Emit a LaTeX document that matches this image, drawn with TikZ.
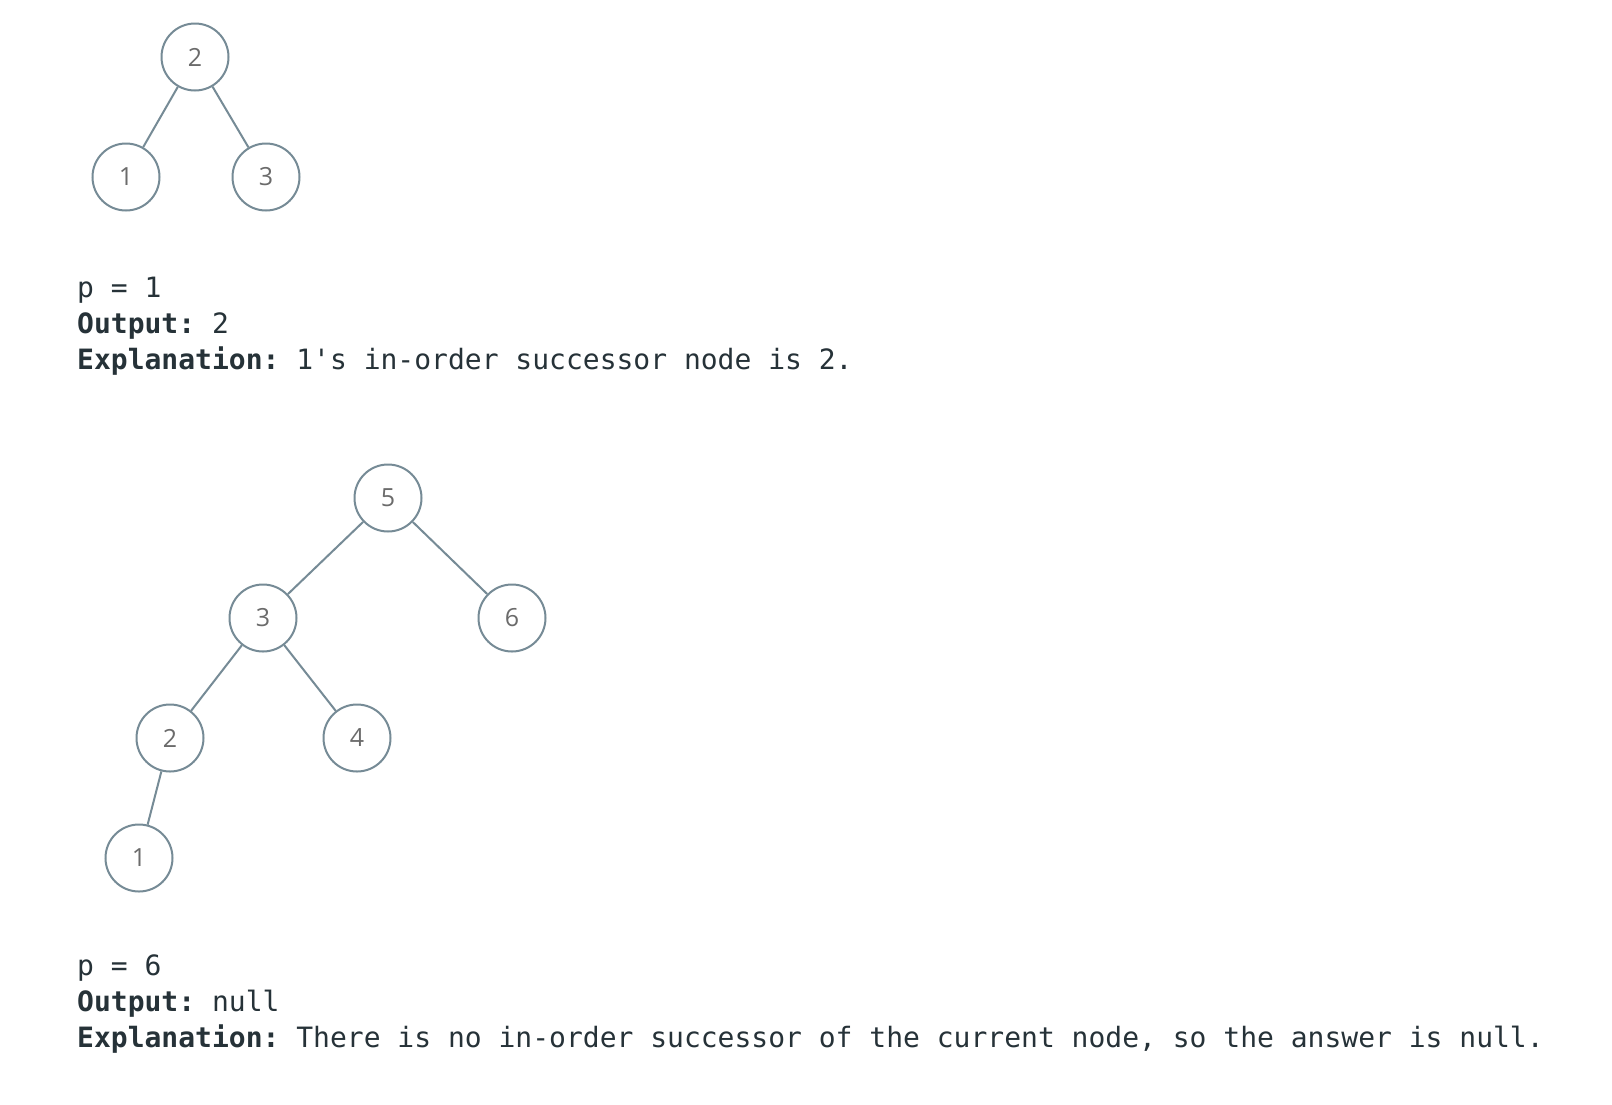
\documentclass[tikz,border=0pt]{standalone}
\usepackage{fontspec}
\setmainfont{Open Sans}
\setmonofont{DejaVu Sans Mono}
\newfontfamily\nodefont{Open Sans}
\definecolor{edgecol}{HTML}{768B96}
\definecolor{numcol}{HTML}{6B6B6B}
\definecolor{txtcol}{HTML}{263238}
\tikzset{
  treenode/.style={circle, draw=edgecol, line width=2pt, fill=white, minimum size=67pt, inner sep=0pt, font=\nodefont\fontsize{25}{25}\selectfont, text=numcol},
  treeedge/.style={draw=edgecol, line width=2pt},
  codeline/.style={anchor=base west, inner sep=0pt, text=txtcol, font=\ttfamily\fontsize{28}{30}\selectfont}
}
\begin{document}
\begin{tikzpicture}[x=1pt,y=-1pt]
\useasboundingbox[fill=white] (0,0) rectangle (1612,1104);
% tree 1
\node[treenode] (a2) at (195,57) {2};
\node[treenode] (a1) at (126,177) {1};
\node[treenode] (a3) at (266,177) {3};
\draw[treeedge] (a2) -- (a1);
\draw[treeedge] (a2) -- (a3);
% text 1
\node[codeline] (t1) at (77,297) {p = 1};
\node[codeline] (t2) at (77,333) {\textbf{Output:} 2};
\node[codeline] (t3) at (77,369) {\textbf{Explanation:} 1's in-order successor node is 2.};
% tree 2
\node[treenode] (b5) at (388,498) {5};
\node[treenode] (b3) at (263,618) {3};
\node[treenode] (b6) at (512,618) {6};
\node[treenode] (b2) at (170,738) {2};
\node[treenode] (b4) at (357,738) {4};
\node[treenode] (b1) at (139,858) {1};
\draw[treeedge] (b5) -- (b3);
\draw[treeedge] (b5) -- (b6);
\draw[treeedge] (b3) -- (b2);
\draw[treeedge] (b3) -- (b4);
\draw[treeedge] (b2) -- (b1);
% text 2
\node[codeline] (u1) at (77,975) {p = 6};
\node[codeline] (u2) at (77,1011) {\textbf{Output:} null};
\node[codeline] (u3) at (77,1047) {\textbf{Explanation:} There is no in-order successor of the current node, so the answer is null.};
\end{tikzpicture}
\end{document}
